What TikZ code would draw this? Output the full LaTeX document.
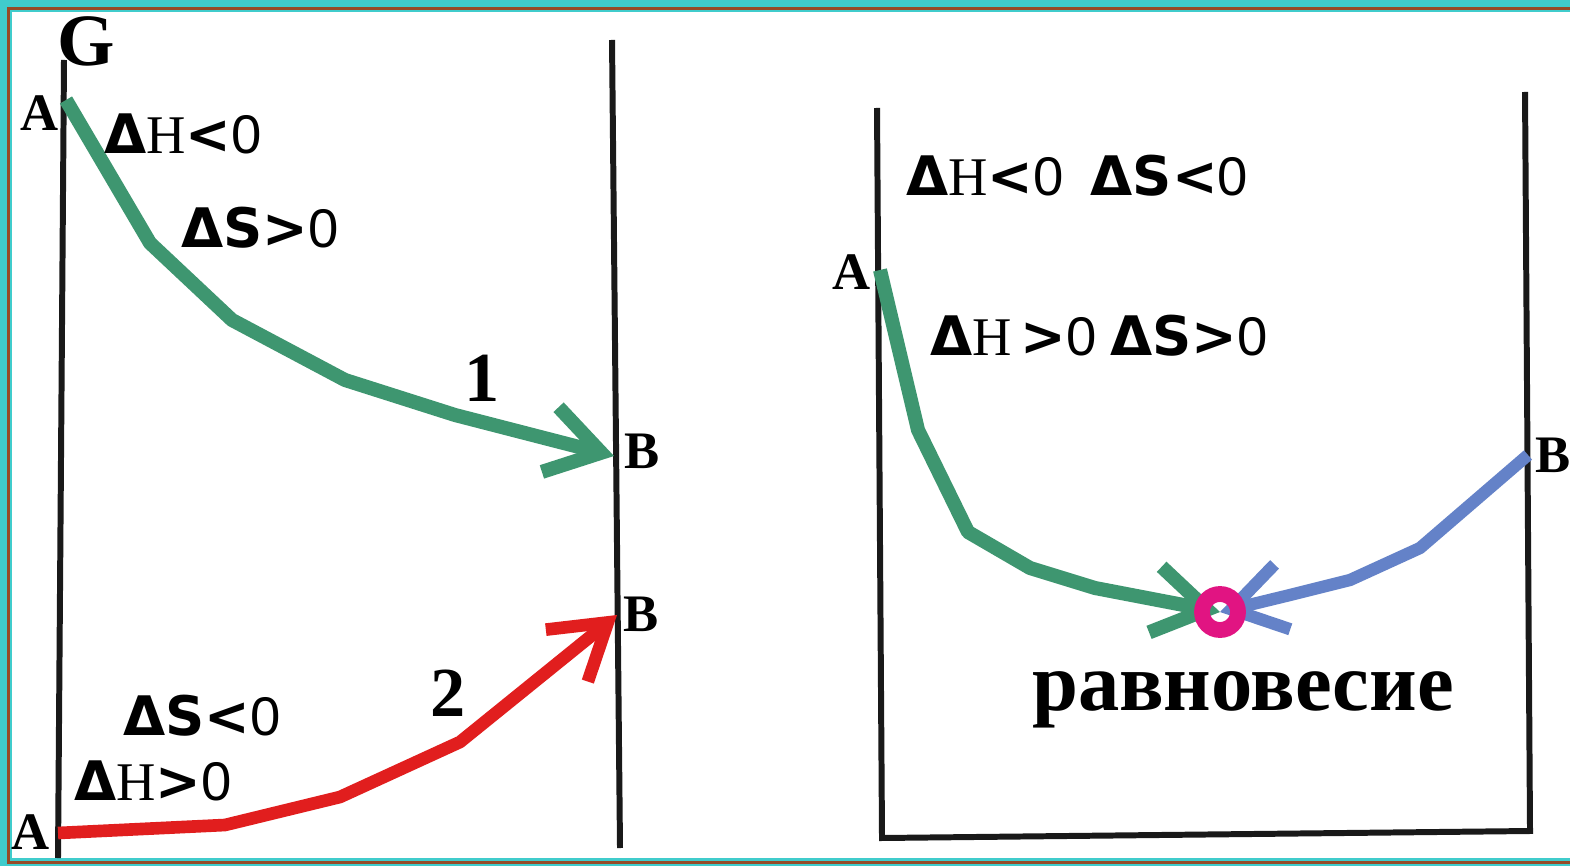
\documentclass[tikz,border=0pt]{standalone}
\usepackage{fontspec}
\setmainfont{Liberation Serif}
\newfontfamily\dejavu{DejaVu Sans}
\newfontfamily\arialf{Liberation Sans}
\usetikzlibrary{arrows.meta}

\definecolor{frameteal}{RGB}{64,204,204}
\definecolor{framebrown}{RGB}{150,75,40}
\definecolor{pathgreen}{RGB}{62,150,112}
\definecolor{pathred}{RGB}{225,30,30}
\definecolor{pathblue}{RGB}{100,130,200}
\definecolor{eqmagenta}{RGB}{225,20,130}

% pieces of the Delta-relations
\newcommand{\Dl}{{\dejavu\bfseries Δ}}
\newcommand{\ltsign}{{\dejavu\bfseries <}}
\newcommand{\gtsign}{{\dejavu\bfseries >}}
\newcommand{\Sbold}{{\dejavu\bfseries S}}
\newcommand{\zero}{{\arialf 0}}

\begin{document}
\begin{tikzpicture}[x=0.1mm,y=-0.1mm,
	axis/.style={line width=1.7pt,black!90},
	curve/.style={line width=4pt,line join=round,-{Straight Barb[length=15pt,width=19pt]}},
	pt/.style={font=\fontsize{15}{15}\selectfont\bfseries,inner sep=0pt},
	num/.style={font=\fontsize{20}{20}\selectfont\bfseries,inner sep=0pt},
	rel/.style={font=\fontsize{15.5}{15.5}\selectfont,inner sep=0pt}]
	
	\useasboundingbox (0,0) rectangle (1570,866);
	
	%--- frame ---
	\fill[frameteal] (0,0) rectangle (1590,880);
	\draw[framebrown,line width=0.8pt] (8.5,8.5) rectangle (1582,862.5);
	\fill[white] (12,12) rectangle (1582,858);
	
	%--- left panel: axes ---
	\draw[axis] (64,60) -- (58,858);
	\draw[axis] (612,40) -- (620,848);
	\node[font=\fontsize{21}{21}\selectfont\bfseries,inner sep=0pt] (G) at (86,41) {G};
	
	% path 1 (green)
	\coordinate (A1) at (66,100);
	\coordinate (B1) at (614,456);
	\draw[curve,pathgreen] (A1) -- (150,243) -- (232,320) -- (345,380) -- (455,415) -- (B1);
	\node[pt] (lA1) at (40,113) {A};
	\node[pt] (lB1) at (642,451) {B};
	\node[num] (n1) at (482,378) {1};
	\node[rel] (r1) at (183,134) {\Dl H\ltsign\zero};
	\node[rel] (r2) at (260,228) {\Dl\Sbold\gtsign\zero};
	
	% path 2 (red)
	\coordinate (A2) at (58,833);
	\coordinate (B2) at (617,615);
	\draw[curve,pathred,line width=3.6pt] (A2) -- (225,825) -- (340,797) -- (460,742) -- (B2);
	\node[pt] (lA2) at (31,832) {A};
	\node[pt] (lB2) at (641,614) {B};
	\node[num] (n2) at (448,693) {2};
	\node[rel] (r3) at (202,716) {\Dl\Sbold\ltsign\zero};
	\node[rel] (r4) at (153,781) {\Dl H\gtsign\zero};
	
	%--- right panel: box ---
	\draw[axis,line join=miter] (877,108) -- (882,838) -- (1530,831) -- (1525,92);
	
	% equilibrium point
	\coordinate (eq) at (1220,612);
	\coordinate (A3) at (880,270);
	\coordinate (B3) at (1528,455);
	\draw[curve,pathgreen] (A3) -- (918,430) -- (968,532) -- (1030,568) -- (1095,588) -- (eq);
	\draw[curve,pathblue,line width=3.5pt] (B3) -- (1420,548) -- (1350,580) -- (1290,595) -- (eq);
	\draw[eqmagenta,line width=4.5pt] (eq) circle (18);
	
	\node[pt] (lA3) at (852,272) {A};
	\node[pt] (lB3) at (1553,455) {B};
	\node[rel] (r5) at (1077,176) {\Dl H\ltsign\zero\ \ \Dl\Sbold\ltsign\zero};
	\node[rel] (r6) at (1099,336) {\Dl H\,\gtsign\zero\ \Dl\Sbold\gtsign\zero};
	\node[font=\fontsize{23.5}{23.5}\selectfont\bfseries,anchor=base,inner sep=0pt] (eqlbl) at (1243,710) {равновесие};
	
\end{tikzpicture}
\end{document}
